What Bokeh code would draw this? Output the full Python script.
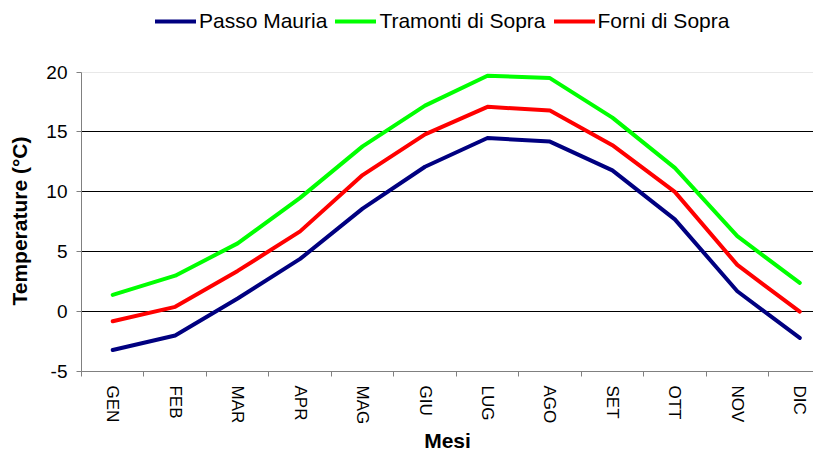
from bokeh.plotting import figure
from bokeh.models import Range1d, FixedTicker, Legend, LegendItem, ColumnDataSource, Grid
from bokeh.embed import file_html
from bokeh.resources import INLINE

months = ["GEN", "FEB", "MAR", "APR", "MAG", "GIU", "LUG", "AGO", "SET", "OTT", "NOV", "DIC"]
passo_mauria = [-3.2, -2.0, 1.1, 4.4, 8.6, 12.1, 14.5, 14.2, 11.8, 7.7, 1.7, -2.2]
tramonti_di_sopra = [1.4, 3.0, 5.7, 9.5, 13.8, 17.2, 19.7, 19.5, 16.2, 12.0, 6.3, 2.4]
forni_di_sopra = [-0.8, 0.4, 3.4, 6.7, 11.4, 14.8, 17.1, 16.8, 13.9, 10.0, 3.9, 0.0]
series_names = ["Passo Mauria", "Tramonti di Sopra", "Forni di Sopra"]
series_colors = ["#000080", "#00FF00", "#FF0000"]
y_ticks = [-5, 0, 5, 10, 15, 20]
y_tick_labels = ["-5", "0", "5", "10", "15", "20"]

FONT = "Liberation Sans"
NBSP = "\u00a0"

xs = list(range(len(months)))
# extra headroom above 20 holds the legend inside the frame
p = figure(width=813, height=455, output_backend="svg", toolbar_location=None,
           x_range=Range1d(-0.5, 11.22), y_range=Range1d(-5, 25.98),
           min_border_left=81, min_border_top=0, min_border_right=0, min_border_bottom=82)
p.outline_line_color = None
p.background_fill_color = "white"
p.border_fill_color = "white"

renderers = []
for vals, color in zip([passo_mauria, tramonti_di_sopra, forni_di_sopra], series_colors):
    src = ColumnDataSource(dict(x=xs, y=vals))
    r = p.line("x", "y", source=src, line_color=color, line_width=4, line_join="round", line_cap="round")
    renderers.append(r)

# x axis: labels at centers, ticks at category boundaries
xa = p.xaxis[0]
xa.ticker = FixedTicker(ticks=xs, minor_ticks=[i - 0.5 for i in range(len(months) + 1)])
xa.major_label_overrides = {i: m for i, m in enumerate(months)}
xa.major_label_orientation = "vertical"
xa.major_tick_out = 0
xa.major_tick_in = 0
xa.minor_tick_out = 5
xa.minor_tick_in = 0
xa.minor_tick_line_color = "#808080"
xa.axis_line_color = "#808080"
xa.major_label_standoff = 9
xa.major_label_text_font = FONT
xa.major_label_text_font_size = "17px"
xa.major_label_text_color = "black"
xa.axis_label = "Mesi"
xa.axis_label_text_font = FONT
xa.axis_label_text_font_size = "21px"
xa.axis_label_text_font_style = "bold"
xa.axis_label_standoff = 2
xa.axis_label_text_color = "black"

ya = p.yaxis[0]
ya.bounds = (y_ticks[0], y_ticks[-1])
ya.ticker = FixedTicker(ticks=y_ticks, minor_ticks=[])
ya.major_label_overrides = {t: s for t, s in zip(y_ticks, y_tick_labels)}
ya.major_tick_out = 5
ya.major_tick_in = 0
ya.major_tick_line_color = "#808080"
ya.axis_line_color = "#808080"
ya.major_label_standoff = 9
ya.major_label_text_font = FONT
ya.major_label_text_font_size = "19px"
ya.major_label_text_color = "black"
# trailing no-break spaces keep the title centred on the visible -5..20 span
ya.axis_label = "Temperature (°C)" + NBSP * 12
ya.axis_label_text_font = FONT
ya.axis_label_text_font_size = "21px"
ya.axis_label_text_font_style = "bold"
ya.axis_label_standoff = 12
ya.axis_label_text_color = "black"

p.xgrid.grid_line_color = None
p.ygrid.ticker = FixedTicker(ticks=y_ticks[1:-1])
p.ygrid.grid_line_color = "black"
p.ygrid.grid_line_width = 1
# faint top border of the plot area at the highest tick
p.add_layout(Grid(dimension=1, ticker=FixedTicker(ticks=y_ticks[-1:]), grid_line_color="#e8e8e8"))

legend = Legend(items=[LegendItem(label=n, renderers=[r]) for n, r in zip(series_names, renderers)],
                orientation="horizontal", location=(74, 338),
                label_text_font=FONT, label_text_font_size="21px", label_text_color="black",
                glyph_width=41, glyph_height=20, label_standoff=3, spacing=8,
                padding=2, margin=0, border_line_color=None, background_fill_alpha=0)
p.add_layout(legend, "center")

open("out.html", "w").write(file_html(p, INLINE))
